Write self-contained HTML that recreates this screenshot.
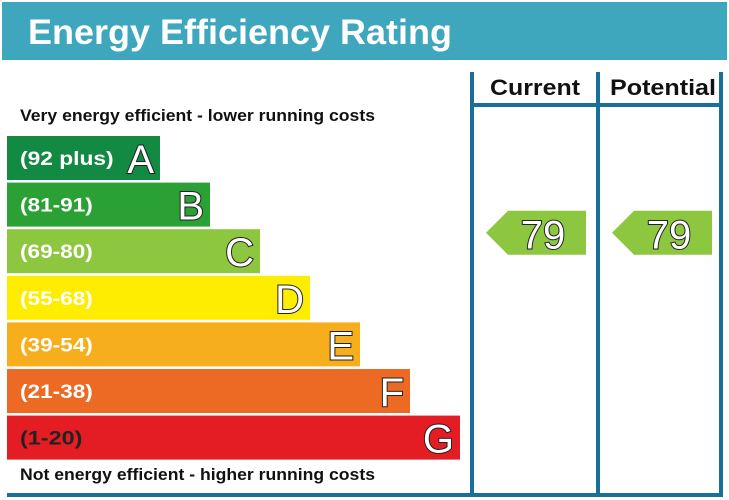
<!DOCTYPE html>
<html><head><meta charset="utf-8"><style>
body{margin:0;background:#fff;width:729px;height:500px;overflow:hidden}
svg{display:block;font-family:"Liberation Sans",Arial,sans-serif}
.let{font-size:40px;fill:#fff;stroke:#222;stroke-width:2;paint-order:stroke}
</style></head><body>
<svg width="729" height="500">
<rect x="2" y="2" width="725" height="58" fill="#3ea6bd"/>
<text x="28" y="44" font-size="35" font-weight="bold" fill="#fff" textLength="424" lengthAdjust="spacingAndGlyphs">Energy Efficiency Rating</text>
<text x="20" y="121" font-size="16.5" font-weight="bold" fill="#111" textLength="355" lengthAdjust="spacingAndGlyphs">Very energy efficient - lower running costs</text>
<text x="20" y="480" font-size="16.5" font-weight="bold" fill="#111" textLength="355" lengthAdjust="spacingAndGlyphs">Not energy efficient - higher running costs</text>
<g id="bars"></g>
<g fill="#1a6e9a">
<rect x="470" y="72" width="4" height="425"/>
<rect x="596" y="72" width="4" height="425"/>
<rect x="719" y="72" width="4" height="425"/>
<rect x="470" y="103" width="253" height="4"/>
<rect x="7" y="493" width="716" height="4"/>
</g>
<text x="490" y="95" font-size="22" font-weight="bold" fill="#111" textLength="90" lengthAdjust="spacingAndGlyphs">Current</text>
<text x="610" y="95" font-size="22" font-weight="bold" fill="#111" textLength="106" lengthAdjust="spacingAndGlyphs">Potential</text>
<g id="arrows"></g>
</svg>
<script>
const bands=["A","B","C","D","E","F","G"];
const ranges=["(92 plus)","(81-91)","(69-80)","(55-68)","(39-54)","(21-38)","(1-20)"];
const mins=[92,81,69,55,39,21,1];
const colors=["#138a43","#2ba135","#8dc63f","#ffed00","#f7ae1d","#ec6a24","#e31d23"];
const ratings=[79,79];
const ratingLabels=["current","potential"];
const ns="http://www.w3.org/2000/svg";
const bg=document.getElementById("bars");
function barY(i){return 136+i*46.6;}
function barW(i){return 153+i*50;}
function bandOf(v){for(let i=0;i<mins.length;i++)if(v>=mins[i])return i;return 6;}
bands.forEach((b,i)=>{
 const g=document.createElementNS(ns,"g");
 
 
 const r=document.createElementNS(ns,"rect");
 r.setAttribute("x",7);r.setAttribute("y",barY(i));r.setAttribute("width",barW(i));r.setAttribute("height",44);r.setAttribute("fill",colors[i]);
 g.appendChild(r);
 const t=document.createElementNS(ns,"text");
 t.setAttribute("x",20);t.setAttribute("y",barY(i)+29);t.setAttribute("font-size","19");t.setAttribute("font-weight","bold");
 t.setAttribute("fill",i==6?"#222":"#fff");t.textContent=ranges[i];
 t.setAttribute("textLength",ranges[i].length*10.4);t.setAttribute("lengthAdjust","spacingAndGlyphs");
 
 
 g.appendChild(t);
 const l=document.createElementNS(ns,"text");
 l.setAttribute("x",7+barW(i)-6);l.setAttribute("y",barY(i)+37);l.setAttribute("text-anchor","end");l.setAttribute("class","let");l.textContent=b;
 
 
 g.appendChild(l);
 bg.appendChild(g);
});
const ag=document.getElementById("arrows");
const colX=[486,612];
ratings.forEach((v,k)=>{
 const i=bandOf(v);const y=barY(i)-18.5;const x=colX[k];
 const p=document.createElementNS(ns,"polygon");
 p.setAttribute("points",`${x},${y+22} ${x+22},${y} ${x+100},${y} ${x+100},${y+44} ${x+22},${y+44}`);
 p.setAttribute("fill",colors[i]);
 
 
 ag.appendChild(p);
 const t=document.createElementNS(ns,"text");
 t.setAttribute("x",x+57);t.setAttribute("y",y+38);t.setAttribute("text-anchor","middle");t.setAttribute("class","let");t.textContent=v;
 
 
 ag.appendChild(t);
});
</script>
</body></html>
